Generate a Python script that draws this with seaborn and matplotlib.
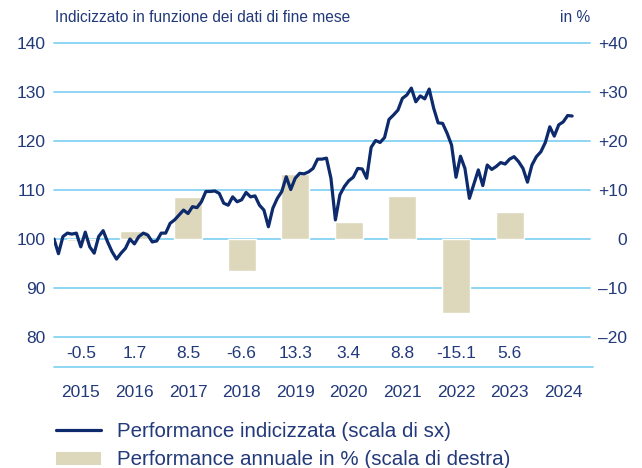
import numpy as np
import pandas as pd
import seaborn as sns
import matplotlib.pyplot as plt
from matplotlib.lines import Line2D
from matplotlib.patches import Patch
from matplotlib.transforms import blended_transform_factory

# Indexed performance, end of month, Dec 2014 = 100 (left scale)
index_values = [
    100.0, 97.0, 100.5, 101.2, 101.0, 101.2, 98.4, 101.4, 98.4, 97.1, 100.5, 101.7,
    99.4, 97.4, 95.9, 97.1, 98.1, 100.0, 99.0, 100.5, 101.2, 100.8, 99.4, 99.6,
    101.2, 101.2, 103.2, 103.9, 104.9, 105.9, 105.2, 106.6, 106.4, 107.6, 109.7, 109.7,
    109.8, 109.3, 107.3, 106.9, 108.6, 107.6, 108.0, 109.5, 108.6, 108.8, 106.9, 105.9,
    102.5, 106.3, 108.3, 109.7, 112.7, 110.1, 112.4, 113.4, 113.3, 113.7, 114.4, 116.3,
    116.3, 116.5, 112.4, 103.9, 109.0, 110.7, 111.9, 112.6, 114.4, 114.3, 112.4, 118.7,
    120.1, 119.7, 120.7, 124.4, 125.3, 126.3, 128.7, 129.4, 130.8, 128.0, 129.2, 128.6,
    130.6, 126.7, 123.7, 123.6, 121.6, 119.2, 112.6, 116.9, 114.4, 108.3, 111.2, 114.1,
    110.9, 115.1, 114.2, 114.8, 115.6, 115.3, 116.3, 116.8, 115.8, 114.4, 111.6, 115.1,
    116.8, 117.8, 119.7, 122.9, 121.0, 123.3, 123.9, 125.2, 125.1,
]

# Annual performance in % (right scale)
bar_years = [2015, 2016, 2017, 2018, 2019, 2020, 2021, 2022, 2023]
bar_returns = [-0.5, 1.7, 8.5, -6.6, 13.3, 3.4, 8.8, -15.1, 5.6]
bar_labels = ["-0.5", "1.7", "8.5", "-6.6", "13.3", "3.4", "8.8", "-15.1", "5.6"]

year_labels = ["2015", "2016", "2017", "2018", "2019", "2020", "2021", "2022", "2023", "2024"]
left_ticks = [80, 90, 100, 110, 120, 130, 140]
right_ticks = [-20, -10, 0, 10, 20, 30, 40]
right_tick_labels = ["\u201320", "\u201310", "0", "+10", "+20", "+30", "+40"]

NAVY = "#0c2a6c"
TEXT = "#22397a"
BEIGE = "#ddd8bc"
GRID = "#86d2f1"

sns.set_theme(style="white")
plt.rcParams["font.family"] = ["Liberation Sans", "DejaVu Sans"]

fig = plt.figure(figsize=(6.42, 4.68), dpi=100)
ax = fig.add_axes([54 / 642, 1 - 337 / 468, 536 / 642, 294 / 468])
ax2 = ax.twinx()

# bars on the primary axis (right scale), behind the line
line_x = 2015 + np.arange(len(index_values)) / 12
bar_x = [y + 0.5 for y in bar_years]
sns.barplot(x=bar_x, y=bar_returns, native_scale=True, width=0.52, color=BEIGE,
            saturation=1, errorbar=None, ax=ax, zorder=2)
ax.set_ylim(-20, 40)
ax.set_yticks(right_ticks)
ax.set_yticklabels(right_tick_labels)
ax.yaxis.tick_right()
ax.grid(axis="y", color=GRID, linewidth=1.3)
ax.grid(axis="x", visible=False)
ax.set_axisbelow(True)
for gl in ax.yaxis.get_gridlines():
    gl.set_clip_on(False)

sns.lineplot(x=line_x, y=index_values, color=NAVY, linewidth=2.3, ax=ax2)
ax2.set_ylim(80, 140)
ax2.set_yticks(left_ticks)
ax2.yaxis.tick_left()

for a in (ax, ax2):
    a.set_xlim(2015, 2025)
    a.set_xticks([])
    a.set_xlabel("")
    a.set_ylabel("")
    for s in a.spines.values():
        s.set_visible(False)

ax.tick_params(axis="y", length=0, pad=27, labelsize=12.5, labelcolor=TEXT)
for lbl in ax.get_yticklabels():
    lbl.set_horizontalalignment("right")
ax2.tick_params(axis="y", length=0, pad=6, labelsize=12.5, labelcolor=TEXT)

# value row, separator and years under the plot
tr = blended_transform_factory(ax.transData, ax.transAxes)
for x, lab in zip(bar_x, bar_labels):
    ax.text(x, -0.057, lab, transform=tr, ha="center", va="center",
            fontsize=12.5, color=TEXT, clip_on=False)
ax.add_line(Line2D([0, 1.005], [-0.102, -0.102], transform=ax.transAxes,
                   color=GRID, linewidth=1.3, clip_on=False))
for i, lab in enumerate(year_labels):
    ax.text(2015.5 + i, -0.19, lab, transform=tr, ha="center", va="center",
            fontsize=12.5, color=TEXT, clip_on=False)

fig.text(55 / 642, 1 - 18 / 468, "Indicizzato in funzione dei dati di fine mese",
         ha="left", va="center", fontsize=11.2, color=TEXT)
fig.text(590 / 642, 1 - 18 / 468, "in %", ha="right", va="center",
         fontsize=11.2, color=TEXT)

handles = [Line2D([0], [0], color=NAVY, linewidth=2.3),
           Patch(facecolor=BEIGE, edgecolor="none")]
labels = ["Performance indicizzata (scala di sx)",
          "Performance annuale in % (scala di destra)"]
fig.legend(handles, labels, loc="upper left", bbox_to_anchor=(48 / 642, 1 - 414 / 468),
           frameon=False, fontsize=14.8, labelcolor=TEXT, handlelength=2.2,
           handleheight=0.6, handletextpad=0.75, labelspacing=0.45, borderaxespad=0)

fig.savefig("out.png", dpi=100)
